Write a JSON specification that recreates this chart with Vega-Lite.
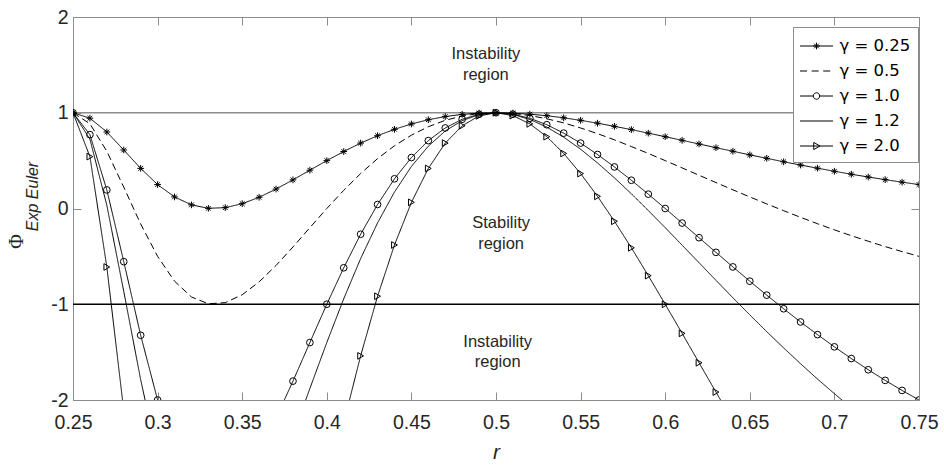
{
"$schema": "https://vega.github.io/schema/vega-lite/v6.json",
"width": 846,
"height": 383,
"autosize": {"type": "none"},
"padding": {"left": 73, "top": 17, "right": 25, "bottom": 65},
"background": "white",
"config": {"view": {"stroke": null}, "font": "Liberation Sans"},
"datasets": {
"hlines": [{"phi": 1}, {"phi": -1}],
"notes": [
{"r": 0.494, "phi": 1.609, "label": "Instability"},
{"r": 0.494, "phi": 1.39, "label": "region"},
{"r": 0.503, "phi": -0.153, "label": "Stability"},
{"r": 0.503, "phi": -0.372, "label": "region"},
{"r": 0.501, "phi": -1.399, "label": "Instability"},
{"r": 0.501, "phi": -1.608, "label": "region"}
],
"curves": [
{"gamma":"γ = 0.25","r":0.25,"phi":1},{"gamma":"γ = 0.25","r":0.26,"phi":0.943},{"gamma":"γ = 0.25","r":0.27,"phi":0.799},{"gamma":"γ = 0.25","r":0.28,"phi":0.611},{"gamma":"γ = 0.25","r":0.29,"phi":0.419},{"gamma":"γ = 0.25","r":0.3,"phi":0.25},{"gamma":"γ = 0.25","r":0.31,"phi":0.121},{"gamma":"γ = 0.25","r":0.32,"phi":0.038},{"gamma":"γ = 0.25","r":0.33,"phi":0.002},{"gamma":"γ = 0.25","r":0.34,"phi":0.009},{"gamma":"γ = 0.25","r":0.35,"phi":0.05},{"gamma":"γ = 0.25","r":0.36,"phi":0.117},{"gamma":"γ = 0.25","r":0.37,"phi":0.203},{"gamma":"γ = 0.25","r":0.38,"phi":0.299},{"gamma":"γ = 0.25","r":0.39,"phi":0.4},{"gamma":"γ = 0.25","r":0.4,"phi":0.5},{"gamma":"γ = 0.25","r":0.41,"phi":0.595},{"gamma":"γ = 0.25","r":0.42,"phi":0.683},{"gamma":"γ = 0.25","r":0.43,"phi":0.76},{"gamma":"γ = 0.25","r":0.44,"phi":0.827},{"gamma":"γ = 0.25","r":0.45,"phi":0.883},{"gamma":"γ = 0.25","r":0.46,"phi":0.927},{"gamma":"γ = 0.25","r":0.47,"phi":0.96},{"gamma":"γ = 0.25","r":0.48,"phi":0.983},{"gamma":"γ = 0.25","r":0.49,"phi":0.996},{"gamma":"γ = 0.25","r":0.5,"phi":1},{"gamma":"γ = 0.25","r":0.51,"phi":0.996},{"gamma":"γ = 0.25","r":0.52,"phi":0.985},{"gamma":"γ = 0.25","r":0.53,"phi":0.969},{"gamma":"γ = 0.25","r":0.54,"phi":0.947},{"gamma":"γ = 0.25","r":0.55,"phi":0.921},{"gamma":"γ = 0.25","r":0.56,"phi":0.891},{"gamma":"γ = 0.25","r":0.57,"phi":0.858},{"gamma":"γ = 0.25","r":0.58,"phi":0.824},{"gamma":"γ = 0.25","r":0.59,"phi":0.787},{"gamma":"γ = 0.25","r":0.6,"phi":0.75},{"gamma":"γ = 0.25","r":0.61,"phi":0.712},{"gamma":"γ = 0.25","r":0.62,"phi":0.674},{"gamma":"γ = 0.25","r":0.63,"phi":0.635},{"gamma":"γ = 0.25","r":0.64,"phi":0.598},{"gamma":"γ = 0.25","r":0.65,"phi":0.56},{"gamma":"γ = 0.25","r":0.66,"phi":0.524},{"gamma":"γ = 0.25","r":0.67,"phi":0.488},{"gamma":"γ = 0.25","r":0.68,"phi":0.454},{"gamma":"γ = 0.25","r":0.69,"phi":0.421},{"gamma":"γ = 0.25","r":0.7,"phi":0.389},{"gamma":"γ = 0.25","r":0.71,"phi":0.358},{"gamma":"γ = 0.25","r":0.72,"phi":0.329},{"gamma":"γ = 0.25","r":0.73,"phi":0.301},{"gamma":"γ = 0.25","r":0.74,"phi":0.275},{"gamma":"γ = 0.25","r":0.75,"phi":0.25},
{"gamma":"γ = 0.5","r":0.25,"phi":1},{"gamma":"γ = 0.5","r":0.26,"phi":0.885},{"gamma":"γ = 0.5","r":0.27,"phi":0.597},{"gamma":"γ = 0.5","r":0.28,"phi":0.223},{"gamma":"γ = 0.5","r":0.29,"phi":-0.162},{"gamma":"γ = 0.5","r":0.3,"phi":-0.5},{"gamma":"γ = 0.5","r":0.31,"phi":-0.759},{"gamma":"γ = 0.5","r":0.32,"phi":-0.924},{"gamma":"γ = 0.5","r":0.33,"phi":-0.995},{"gamma":"γ = 0.5","r":0.34,"phi":-0.983},{"gamma":"γ = 0.5","r":0.35,"phi":-0.901},{"gamma":"γ = 0.5","r":0.36,"phi":-0.766},{"gamma":"γ = 0.5","r":0.37,"phi":-0.595},{"gamma":"γ = 0.5","r":0.38,"phi":-0.402},{"gamma":"γ = 0.5","r":0.39,"phi":-0.2},{"gamma":"γ = 0.5","r":0.4,"phi":0},{"gamma":"γ = 0.5","r":0.41,"phi":0.19},{"gamma":"γ = 0.5","r":0.42,"phi":0.365},{"gamma":"γ = 0.5","r":0.43,"phi":0.521},{"gamma":"γ = 0.5","r":0.44,"phi":0.655},{"gamma":"γ = 0.5","r":0.45,"phi":0.766},{"gamma":"γ = 0.5","r":0.46,"phi":0.854},{"gamma":"γ = 0.5","r":0.47,"phi":0.921},{"gamma":"γ = 0.5","r":0.48,"phi":0.966},{"gamma":"γ = 0.5","r":0.49,"phi":0.992},{"gamma":"γ = 0.5","r":0.5,"phi":1},{"gamma":"γ = 0.5","r":0.51,"phi":0.992},{"gamma":"γ = 0.5","r":0.52,"phi":0.971},{"gamma":"γ = 0.5","r":0.53,"phi":0.937},{"gamma":"γ = 0.5","r":0.54,"phi":0.894},{"gamma":"γ = 0.5","r":0.55,"phi":0.841},{"gamma":"γ = 0.5","r":0.56,"phi":0.782},{"gamma":"γ = 0.5","r":0.57,"phi":0.717},{"gamma":"γ = 0.5","r":0.58,"phi":0.647},{"gamma":"γ = 0.5","r":0.59,"phi":0.575},{"gamma":"γ = 0.5","r":0.6,"phi":0.5},{"gamma":"γ = 0.5","r":0.61,"phi":0.424},{"gamma":"γ = 0.5","r":0.62,"phi":0.347},{"gamma":"γ = 0.5","r":0.63,"phi":0.271},{"gamma":"γ = 0.5","r":0.64,"phi":0.195},{"gamma":"γ = 0.5","r":0.65,"phi":0.121},{"gamma":"γ = 0.5","r":0.66,"phi":0.048},{"gamma":"γ = 0.5","r":0.67,"phi":-0.023},{"gamma":"γ = 0.5","r":0.68,"phi":-0.092},{"gamma":"γ = 0.5","r":0.69,"phi":-0.159},{"gamma":"γ = 0.5","r":0.7,"phi":-0.223},{"gamma":"γ = 0.5","r":0.71,"phi":-0.284},{"gamma":"γ = 0.5","r":0.72,"phi":-0.342},{"gamma":"γ = 0.5","r":0.73,"phi":-0.398},{"gamma":"γ = 0.5","r":0.74,"phi":-0.45},{"gamma":"γ = 0.5","r":0.75,"phi":-0.5},
{"gamma":"γ = 1.0","r":0.25,"phi":1},{"gamma":"γ = 1.0","r":0.26,"phi":0.771},{"gamma":"γ = 1.0","r":0.27,"phi":0.194},{"gamma":"γ = 1.0","r":0.28,"phi":-0.555},{"gamma":"γ = 1.0","r":0.29,"phi":-1.324},{"gamma":"γ = 1.0","r":0.3,"phi":-2},{"gamma":"γ = 1.0","r":0.31,"phi":-2.518},{"gamma":"γ = 1.0","r":0.32,"phi":-2.848},{"gamma":"γ = 1.0","r":0.33,"phi":-2.991},{"gamma":"γ = 1.0","r":0.34,"phi":-2.966},{"gamma":"γ = 1.0","r":0.35,"phi":-2.802},{"gamma":"γ = 1.0","r":0.36,"phi":-2.532},{"gamma":"γ = 1.0","r":0.37,"phi":-2.189},{"gamma":"γ = 1.0","r":0.38,"phi":-1.803},{"gamma":"γ = 1.0","r":0.39,"phi":-1.4},{"gamma":"γ = 1.0","r":0.4,"phi":-1},{"gamma":"γ = 1.0","r":0.41,"phi":-0.619},{"gamma":"γ = 1.0","r":0.42,"phi":-0.269},{"gamma":"γ = 1.0","r":0.43,"phi":0.042},{"gamma":"γ = 1.0","r":0.44,"phi":0.31},{"gamma":"γ = 1.0","r":0.45,"phi":0.532},{"gamma":"γ = 1.0","r":0.46,"phi":0.709},{"gamma":"γ = 1.0","r":0.47,"phi":0.841},{"gamma":"γ = 1.0","r":0.48,"phi":0.932},{"gamma":"γ = 1.0","r":0.49,"phi":0.984},{"gamma":"γ = 1.0","r":0.5,"phi":1},{"gamma":"γ = 1.0","r":0.51,"phi":0.985},{"gamma":"γ = 1.0","r":0.52,"phi":0.942},{"gamma":"γ = 1.0","r":0.53,"phi":0.875},{"gamma":"γ = 1.0","r":0.54,"phi":0.787},{"gamma":"γ = 1.0","r":0.55,"phi":0.683},{"gamma":"γ = 1.0","r":0.56,"phi":0.564},{"gamma":"γ = 1.0","r":0.57,"phi":0.434},{"gamma":"γ = 1.0","r":0.58,"phi":0.295},{"gamma":"γ = 1.0","r":0.59,"phi":0.15},{"gamma":"γ = 1.0","r":0.6,"phi":0},{"gamma":"γ = 1.0","r":0.61,"phi":-0.152},{"gamma":"γ = 1.0","r":0.62,"phi":-0.305},{"gamma":"γ = 1.0","r":0.63,"phi":-0.458},{"gamma":"γ = 1.0","r":0.64,"phi":-0.61},{"gamma":"γ = 1.0","r":0.65,"phi":-0.759},{"gamma":"γ = 1.0","r":0.66,"phi":-0.905},{"gamma":"γ = 1.0","r":0.67,"phi":-1.047},{"gamma":"γ = 1.0","r":0.68,"phi":-1.185},{"gamma":"γ = 1.0","r":0.69,"phi":-1.317},{"gamma":"γ = 1.0","r":0.7,"phi":-1.445},{"gamma":"γ = 1.0","r":0.71,"phi":-1.567},{"gamma":"γ = 1.0","r":0.72,"phi":-1.684},{"gamma":"γ = 1.0","r":0.73,"phi":-1.795},{"gamma":"γ = 1.0","r":0.74,"phi":-1.9},{"gamma":"γ = 1.0","r":0.75,"phi":-2},
{"gamma":"γ = 1.2","r":0.25,"phi":1},{"gamma":"γ = 1.2","r":0.26,"phi":0.725},{"gamma":"γ = 1.2","r":0.27,"phi":0.033},{"gamma":"γ = 1.2","r":0.28,"phi":-0.866},{"gamma":"γ = 1.2","r":0.29,"phi":-1.788},{"gamma":"γ = 1.2","r":0.3,"phi":-2.6},{"gamma":"γ = 1.2","r":0.31,"phi":-3.221},{"gamma":"γ = 1.2","r":0.32,"phi":-3.617},{"gamma":"γ = 1.2","r":0.33,"phi":-3.789},{"gamma":"γ = 1.2","r":0.34,"phi":-3.759},{"gamma":"γ = 1.2","r":0.35,"phi":-3.562},{"gamma":"γ = 1.2","r":0.36,"phi":-3.239},{"gamma":"γ = 1.2","r":0.37,"phi":-2.827},{"gamma":"γ = 1.2","r":0.38,"phi":-2.364},{"gamma":"γ = 1.2","r":0.39,"phi":-1.88},{"gamma":"γ = 1.2","r":0.4,"phi":-1.4},{"gamma":"γ = 1.2","r":0.41,"phi":-0.943},{"gamma":"γ = 1.2","r":0.42,"phi":-0.523},{"gamma":"γ = 1.2","r":0.43,"phi":-0.15},{"gamma":"γ = 1.2","r":0.44,"phi":0.172},{"gamma":"γ = 1.2","r":0.45,"phi":0.439},{"gamma":"γ = 1.2","r":0.46,"phi":0.651},{"gamma":"γ = 1.2","r":0.47,"phi":0.81},{"gamma":"γ = 1.2","r":0.48,"phi":0.918},{"gamma":"γ = 1.2","r":0.49,"phi":0.98},{"gamma":"γ = 1.2","r":0.5,"phi":1},{"gamma":"γ = 1.2","r":0.51,"phi":0.982},{"gamma":"γ = 1.2","r":0.52,"phi":0.93},{"gamma":"γ = 1.2","r":0.53,"phi":0.85},{"gamma":"γ = 1.2","r":0.54,"phi":0.745},{"gamma":"γ = 1.2","r":0.55,"phi":0.619},{"gamma":"γ = 1.2","r":0.56,"phi":0.476},{"gamma":"γ = 1.2","r":0.57,"phi":0.32},{"gamma":"γ = 1.2","r":0.58,"phi":0.154},{"gamma":"γ = 1.2","r":0.59,"phi":-0.021},{"gamma":"γ = 1.2","r":0.6,"phi":-0.2},{"gamma":"γ = 1.2","r":0.61,"phi":-0.383},{"gamma":"γ = 1.2","r":0.62,"phi":-0.566},{"gamma":"γ = 1.2","r":0.63,"phi":-0.75},{"gamma":"γ = 1.2","r":0.64,"phi":-0.932},{"gamma":"γ = 1.2","r":0.65,"phi":-1.111},{"gamma":"γ = 1.2","r":0.66,"phi":-1.286},{"gamma":"γ = 1.2","r":0.67,"phi":-1.456},{"gamma":"γ = 1.2","r":0.68,"phi":-1.621},{"gamma":"γ = 1.2","r":0.69,"phi":-1.781},{"gamma":"γ = 1.2","r":0.7,"phi":-1.934},{"gamma":"γ = 1.2","r":0.71,"phi":-2.081},{"gamma":"γ = 1.2","r":0.72,"phi":-2.221},{"gamma":"γ = 1.2","r":0.73,"phi":-2.354},{"gamma":"γ = 1.2","r":0.74,"phi":-2.48},{"gamma":"γ = 1.2","r":0.75,"phi":-2.6},
{"gamma":"γ = 2.0","r":0.25,"phi":1},{"gamma":"γ = 2.0","r":0.26,"phi":0.542},{"gamma":"γ = 2.0","r":0.27,"phi":-0.611},{"gamma":"γ = 2.0","r":0.28,"phi":-2.11},{"gamma":"γ = 2.0","r":0.29,"phi":-3.647},{"gamma":"γ = 2.0","r":0.3,"phi":-5},{"gamma":"γ = 2.0","r":0.31,"phi":-6.035},{"gamma":"γ = 2.0","r":0.32,"phi":-6.696},{"gamma":"γ = 2.0","r":0.33,"phi":-6.982},{"gamma":"γ = 2.0","r":0.34,"phi":-6.932},{"gamma":"γ = 2.0","r":0.35,"phi":-6.604},{"gamma":"γ = 2.0","r":0.36,"phi":-6.064},{"gamma":"γ = 2.0","r":0.37,"phi":-5.379},{"gamma":"γ = 2.0","r":0.38,"phi":-4.607},{"gamma":"γ = 2.0","r":0.39,"phi":-3.8},{"gamma":"γ = 2.0","r":0.4,"phi":-3},{"gamma":"γ = 2.0","r":0.41,"phi":-2.238},{"gamma":"γ = 2.0","r":0.42,"phi":-1.539},{"gamma":"γ = 2.0","r":0.43,"phi":-0.916},{"gamma":"γ = 2.0","r":0.44,"phi":-0.381},{"gamma":"γ = 2.0","r":0.45,"phi":0.064},{"gamma":"γ = 2.0","r":0.46,"phi":0.418},{"gamma":"γ = 2.0","r":0.47,"phi":0.683},{"gamma":"γ = 2.0","r":0.48,"phi":0.864},{"gamma":"γ = 2.0","r":0.49,"phi":0.967},{"gamma":"γ = 2.0","r":0.5,"phi":1},{"gamma":"γ = 2.0","r":0.51,"phi":0.97},{"gamma":"γ = 2.0","r":0.52,"phi":0.884},{"gamma":"γ = 2.0","r":0.53,"phi":0.75},{"gamma":"γ = 2.0","r":0.54,"phi":0.575},{"gamma":"γ = 2.0","r":0.55,"phi":0.365},{"gamma":"γ = 2.0","r":0.56,"phi":0.127},{"gamma":"γ = 2.0","r":0.57,"phi":-0.133},{"gamma":"γ = 2.0","r":0.58,"phi":-0.41},{"gamma":"γ = 2.0","r":0.59,"phi":-0.701},{"gamma":"γ = 2.0","r":0.6,"phi":-1},{"gamma":"γ = 2.0","r":0.61,"phi":-1.304},{"gamma":"γ = 2.0","r":0.62,"phi":-1.611},{"gamma":"γ = 2.0","r":0.63,"phi":-1.917},{"gamma":"γ = 2.0","r":0.64,"phi":-2.22},{"gamma":"γ = 2.0","r":0.65,"phi":-2.518},{"gamma":"γ = 2.0","r":0.66,"phi":-2.81},{"gamma":"γ = 2.0","r":0.67,"phi":-3.094},{"gamma":"γ = 2.0","r":0.68,"phi":-3.369},{"gamma":"γ = 2.0","r":0.69,"phi":-3.635},{"gamma":"γ = 2.0","r":0.7,"phi":-3.89},{"gamma":"γ = 2.0","r":0.71,"phi":-4.135},{"gamma":"γ = 2.0","r":0.72,"phi":-4.368},{"gamma":"γ = 2.0","r":0.73,"phi":-4.59},{"gamma":"γ = 2.0","r":0.74,"phi":-4.801},{"gamma":"γ = 2.0","r":0.75,"phi":-5}
]
},
"layer": [
{
"data": {"name": "hlines"},
"mark": {"type": "rule", "strokeWidth": 1.3},
"encoding": {
"y": {"field": "phi", "type": "quantitative", "scale": {"domain": [-2, 2], "nice": false},
"axis": {"orient": "left", "title": "Exp Euler", "labels": false, "ticks": false, "domain": false, "grid": false,
"titleFont": "Liberation Sans", "titleFontStyle": "italic", "titleFontWeight": "normal", "titleFontSize": 16, "titleColor": "#262626",
"titleAngle": -90, "titleAlign": "center", "titleBaseline": "middle", "titleX": -41, "titleY": 179}},
"color": {"condition": {"test": "datum.phi > 0", "value": "#8c8c8c"}, "value": "black"}
}
},
{
"data": {"name": "curves"},
"mark": {"type": "line", "clip": true, "strokeWidth": 1, "color": "black"},
"encoding": {
"x": {"field": "r", "type": "quantitative", "scale": {"domain": [0.25, 0.75], "nice": false, "zero": false},
"axis": {"orient": "bottom", "values": [0.25, 0.3, 0.35, 0.4, 0.45, 0.5, 0.55, 0.6, 0.65, 0.7, 0.75], "format": "~g", "grid": false,
"domain": true, "domainColor": "#8c8c8c", "domainWidth": 1, "labelFlush": false,
"tickSize": -8, "tickColor": "#8c8c8c", "labelFont": "Liberation Sans", "labelFontSize": 19.5, "labelColor": "#262626", "labelPadding": 21,
"title": "r", "titleFont": "Liberation Sans", "titleFontStyle": "italic", "titleFontWeight": "normal", "titleFontSize": 21, "titleColor": "#262626",
"titleY": 58, "titleBaseline": "alphabetic"}},
"y": {"field": "phi", "type": "quantitative", "scale": {"domain": [-2, 2], "nice": false},
"axis": {"orient": "left", "values": [-2, -1, 0, 1, 2], "labelExpr": "replace(datum.label, '\u2212', '-')", "grid": false,
"domain": true, "domainColor": "#8c8c8c", "domainWidth": 1, "labelFlush": false,
"tickSize": -8, "tickColor": "#8c8c8c", "labelFont": "Liberation Sans", "labelFontSize": 19.5, "labelColor": "#262626", "labelPadding": 13,
"title": "Φ", "titleFont": "Liberation Serif", "titleFontWeight": "normal", "titleFontSize": 20, "titleColor": "#262626",
"titleAngle": -90, "titleAlign": "center", "titleBaseline": "middle", "titleX": -57, "titleY": 224}},
"strokeDash": {"field": "gamma", "type": "nominal",
"scale": {"domain": ["γ = 0.25", "γ = 0.5", "γ = 1.0", "γ = 1.2", "γ = 2.0"], "range": [[1, 0], [7, 4], [1, 0], [1, 0], [1, 0]]}, "legend": null}
}
},
{
"data": {"name": "curves"},
"transform": [{"filter": {"field": "gamma", "oneOf": ["γ = 0.25", "γ = 1.0", "γ = 2.0"]}}],
"mark": {"type": "point", "clip": true, "filled": false, "color": "black", "strokeWidth": 1, "size": 45, "opacity": 1},
"encoding": {
"x": {"field": "r", "type": "quantitative", "scale": {"domain": [0.25, 0.75], "nice": false, "zero": false},
"axis": {"orient": "top", "values": [0.25, 0.3, 0.35, 0.4, 0.45, 0.5, 0.55, 0.6, 0.65, 0.7, 0.75], "labels": false, "domain": true, "domainColor": "#8c8c8c", "domainWidth": 1, "grid": false, "tickSize": -8, "tickColor": "#8c8c8c", "title": null}},
"y": {"field": "phi", "type": "quantitative", "scale": {"domain": [-2, 2], "nice": false},
"axis": {"orient": "right", "values": [-2, -1, 0, 1, 2], "labels": false, "domain": true, "domainColor": "#8c8c8c", "domainWidth": 1, "grid": false, "tickSize": -8, "tickColor": "#8c8c8c", "title": null}},
"shape": {"field": "gamma", "type": "nominal",
"scale": {"domain": ["γ = 0.25", "γ = 1.0", "γ = 2.0"], "range": ["M-1,0H1M0,-1V1M-0.7,-0.7L0.7,0.7M-0.7,0.7L0.7,-0.7", "circle", "triangle-right"]}, "legend": null}
}
},
{
"data": {"name": "notes"},
"mark": {"type": "text", "font": "Liberation Sans", "fontSize": 16.5, "align": "center", "baseline": "middle", "color": "#262626"},
"encoding": {
"x": {"field": "r", "type": "quantitative", "scale": {"domain": [0.25, 0.75], "nice": false, "zero": false}, "axis": null},
"y": {"field": "phi", "type": "quantitative", "scale": {"domain": [-2, 2], "nice": false}, "axis": null},
"text": {"field": "label", "type": "nominal"}
}
},
{
"data": {"name": "curves"},
"transform": [{"filter": "datum.r == 0.5"}],
"mark": {"type": "point", "opacity": 0, "filled": false, "color": "black"},
"encoding": {
"shape": {"field": "gamma", "type": "nominal",
"scale": {"domain": ["γ = 0.25", "γ = 0.5", "γ = 1.0", "γ = 1.2", "γ = 2.0"],
"range": ["M-1.435,0H1.435M-0.29,0H0.29M0,-0.29V0.29M-0.2,-0.2L0.2,0.2M-0.2,0.2L0.2,-0.2", "M-1.435,0H-0.825M-0.425,0H0.185M0.585,0H1.195", "M-1.435,0H-0.28M0.28,0H1.435M-0.28,0A0.28,0.28 0 1,0 0.28,0A0.28,0.28 0 1,0 -0.28,0", "M-1.435,0H1.435", "M-1.435,0H1.435M-0.24,-0.31L0.31,0L-0.24,0.31Z"]},
"legend": {"title": null, "orient": "none", "legendX": 720, "legendY": 10, "direction": "vertical",
"strokeColor": "#8c8c8c", "fillColor": "white", "padding": 7, "cornerRadius": 0,
"symbolSize": 529, "symbolOffset": 4.5, "symbolStrokeColor": "black", "symbolFillColor": "transparent", "symbolStrokeWidth": 1, "symbolOpacity": 1,
"labelFont": "DejaVu Sans", "labelFontSize": 16.5, "labelColor": "black", "labelOffset": 11, "rowPadding": 4}}
}
}
],
"resolve": {"scale": {"shape": "independent"}, "axis": {"x": "independent", "y": "independent"}}
}
